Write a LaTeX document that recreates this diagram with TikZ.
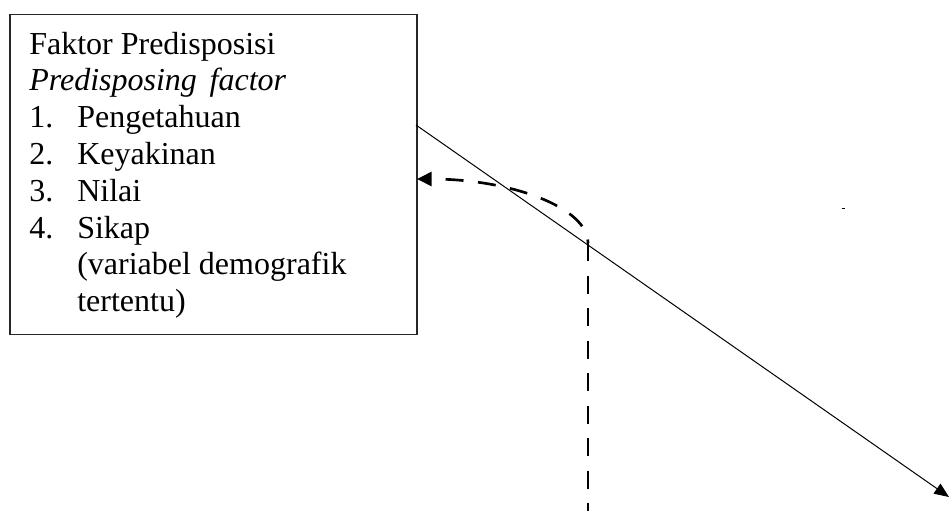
\documentclass[tikz,border=0pt]{standalone}
\usepackage{fontspec}
\setmainfont{Liberation Serif}
\usetikzlibrary{arrows.meta}
\begin{document}
\begin{tikzpicture}[x=0.75pt,y=-0.75pt,
  txt/.style={anchor=base west,inner sep=0pt,font=\fontsize{24}{27.6}\selectfont},
  boxframe/.style={draw=black!85,line width=1pt,inner sep=0pt,anchor=north west,minimum width=305.3pt,minimum height=240pt},
  thinline/.style={line width=0.75pt},
  dashline/.style={line width=2pt,dash pattern=on 13.5pt off 10.9pt}
]
\useasboundingbox (0,0) rectangle (949,511);
\node[boxframe] (box) at (9.3,14) {};
\newcommand{\numbox}[1]{\makebox[36pt][l]{#1}}
\node[txt] (l1) at (29,54) {Faktor Predisposisi};
\node[txt] (l2) at (29,90.8) {\itshape Predisposing\hspace{0.4em}factor};
\node[txt] (l3) at (29,127.6) {\numbox{1.}Pengetahuan};
\node[txt] (l4) at (29,164.4) {\numbox{2.}Keyakinan};
\node[txt] (l5) at (29,201.2) {\numbox{3.}Nilai};
\node[txt] (l6) at (29,238) {\numbox{4.}Sikap};
\node[txt] (l7) at (77,274.8) {(variabel demografik};
\node[txt] (l8) at (77,311.6) {tertentu)};
\coordinate (s) at (416,125);
\coordinate (e) at (949,497);
\coordinate (t) at (417,179);
\coordinate (j) at (588,243);
\coordinate (b) at (588,511);
\draw[thinline,-{Triangle[length=11pt,width=9pt]}] (s) -- (e);
\draw[dashline,dash phase=13.5pt,{Triangle[length=11pt,width=10.5pt]}-] (t) .. controls (511.4,179) and (588,207.7) .. (j);
\draw[dashline] (j) -- (b);
\fill (842,207.5) rectangle (845,208.8);
\end{tikzpicture}
\end{document}
